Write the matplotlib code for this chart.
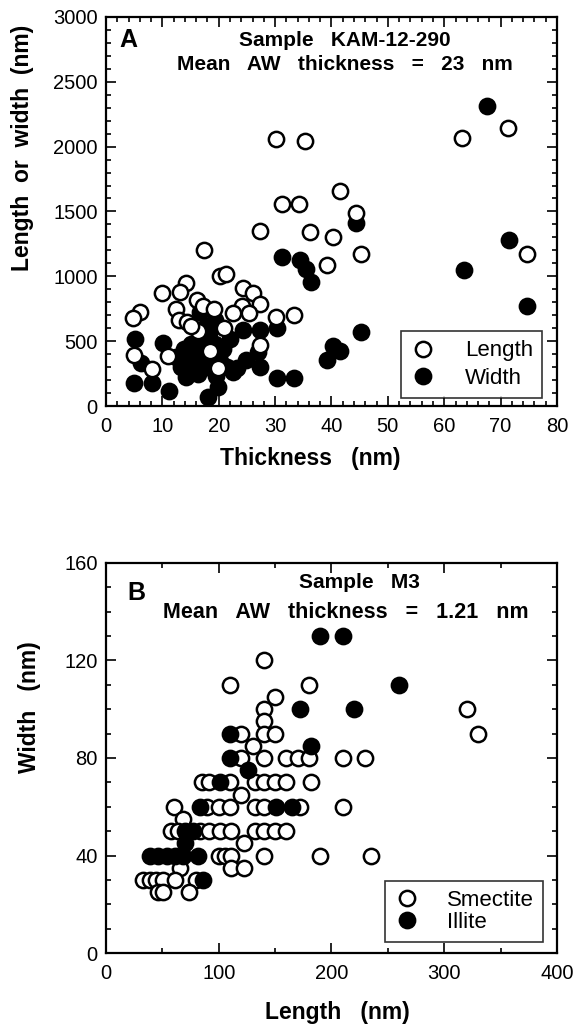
import matplotlib
matplotlib.use("Agg")
from matplotlib import pyplot as plt
from matplotlib.ticker import MultipleLocator

plt.rcParams['font.family'] = ['Liberation Sans', 'DejaVu Sans']

# ---- panel A : sample KAM-12-290 ----
len_thick = [30.2, 35.3, 31.3, 34.2, 27.3, 36.2, 40.3, 41.5, 44.4, 45.3, 39.2, 33.3, 30.2,
             63.2, 71.3, 74.6, 17.4, 20.3, 21.3, 10.0, 14.2, 13.1, 16.2, 12.5, 17.3, 19.2,
             12.9, 14.3, 24.3, 26.1, 27.3, 24.1, 25.3, 22.6, 6.0, 4.8, 5.0, 8.2, 11.0,
             19.9, 18.4, 27.3, 16.3, 15.0, 21.0]
length = [2060, 2040, 1560, 1555, 1350, 1340, 1300, 1655, 1490, 1170, 1085, 705, 690,
          2065, 2145, 1170, 1205, 1005, 1020, 870, 945, 880, 820, 750, 770, 750,
          665, 650, 910, 870, 790, 770, 715, 715, 725, 675, 390, 285, 385,
          290, 425, 470, 575, 620, 600]
wid_thick = [67.5, 71.5, 63.5, 74.6, 44.4, 31.2, 34.4, 35.5, 36.3, 45.3, 39.2, 40.3, 41.6,
             30.4, 33.3, 30.3, 24.3, 27.3, 27.0, 27.3, 23.2, 24.9, 19.9, 18.1, 5.1, 10.1,
             6.2, 5.0, 8.2, 11.2, 12.5, 13.3, 13.8, 14.2, 14.6, 15.0, 15.4, 15.8, 16.3,
             16.7, 17.0, 17.5, 18.0, 18.3, 18.8, 19.3, 19.6, 20.3, 20.8, 21.5, 22.0, 22.5,
             16.7, 19.3, 17.8]
width = [2315, 1277, 1051, 774, 1410, 1148, 1123, 1059, 956, 572, 354, 461, 425,
         213, 213, 600, 584, 584, 418, 302, 290, 354, 149, 72, 520, 487,
         328, 175, 175, 118, 379, 300, 440, 220, 350, 480, 300, 400, 250,
         520, 360, 440, 300, 560, 400, 480, 230, 350, 440, 300, 520, 260,
         725, 660, 620]

# ---- panel B : sample M3 ----
smec_len = [140, 110, 180, 150, 140, 320, 140, 120, 140, 150, 330, 130,
            120, 140, 160, 170, 180, 210, 230,
            85, 91, 110, 132, 140, 150, 160, 182, 120,
            60, 90, 100, 110, 132, 140, 172, 210, 68,
            58, 64, 83, 91, 101, 111, 132, 140, 150, 160,
            122, 100, 106, 111, 140, 190, 235, 111, 122, 66,
            33, 39, 44, 51, 61, 80, 46, 51, 74]
smec_wid = [120, 110, 110, 105, 100, 100, 95, 90, 90, 90, 90, 85,
            80, 80, 80, 80, 80, 80, 80,
            70, 70, 70, 70, 70, 70, 70, 70, 65,
            60, 60, 60, 60, 60, 60, 60, 60, 55,
            50, 50, 50, 50, 50, 50, 50, 50, 50, 50,
            45, 40, 40, 40, 40, 40, 40, 35, 35, 35,
            30, 30, 30, 30, 30, 30, 25, 25, 25]
ill_len = [190, 210, 260, 220, 172, 182, 110, 110, 126, 101, 83, 151, 165,
           70, 77, 70, 39, 46, 54, 61, 68, 82, 86]
ill_wid = [130, 130, 110, 100, 100, 85, 90, 80, 75, 70, 60, 60, 60,
           50, 50, 45, 40, 40, 40, 40, 40, 40, 30]

fig = plt.figure(figsize=(5.79, 10.24), dpi=100)
axA = fig.add_axes([0.183, 0.6035, 0.779, 0.380])
axB = fig.add_axes([0.183, 0.0693, 0.779, 0.381])

ms = 11
mew = 1.8

def style(ax):
    for s in ax.spines.values():
        s.set_linewidth(1.6)
    ax.tick_params(which='both', direction='in', top=True, right=True, width=1.2)
    ax.tick_params(which='major', length=7, labelsize=14.5)
    ax.tick_params(which='minor', length=3.5)
    ax.tick_params(axis='x', which='major', pad=8)
    ax.tick_params(axis='y', which='major', pad=6)

# panel A
axA.plot(wid_thick, width, 'o', ms=ms, mfc='black', mec='black', mew=mew, label='Width', zorder=2)
axA.plot(len_thick, length, 'o', ms=ms, mfc='white', mec='black', mew=mew, label='Length', zorder=3)
axA.set_xlim(0, 80)
axA.set_ylim(0, 3000)
axA.xaxis.set_major_locator(MultipleLocator(10))
axA.xaxis.set_minor_locator(MultipleLocator(2))
axA.yaxis.set_major_locator(MultipleLocator(500))
axA.yaxis.set_minor_locator(MultipleLocator(100))
axA.set_xlabel('Thickness   (nm)', fontsize=16.5, fontweight='bold')
axA.set_ylabel('Length  or  width  (nm)', fontsize=16.5, fontweight='bold')
axA.xaxis.set_label_coords(0.452, -0.105)
axA.yaxis.set_label_coords(-0.16, 0.663)
style(axA)
axA.text(0.03, 0.94, 'A', transform=axA.transAxes, fontsize=18, fontweight='bold', va='center')
axA.text(0.53, 0.94, 'Sample   KAM-12-290', transform=axA.transAxes, fontsize=15,
         fontweight='bold', ha='center', va='center')
axA.text(0.53, 0.877, 'Mean   AW   thickness   =   23   nm', transform=axA.transAxes, fontsize=15,
         fontweight='bold', ha='center', va='center')
h, l = axA.get_legend_handles_labels()
legA = axA.legend(h[::-1], l[::-1], loc='lower right', bbox_to_anchor=(0.967, 0.021),
                  fontsize=16, frameon=True, fancybox=False, edgecolor='black',
                  handletextpad=1.3, borderpad=0.4, labelspacing=0.3, handlelength=1.2,
                  borderaxespad=0.0)
legA.get_frame().set_linewidth(1.2)

# panel B
axB.plot(smec_len, smec_wid, 'o', ms=ms, mfc='white', mec='black', mew=mew, label='Smectite', zorder=2)
axB.plot(ill_len, ill_wid, 'o', ms=ms, mfc='black', mec='black', mew=mew, label='Illite', zorder=3)
axB.set_xlim(0, 400)
axB.set_ylim(0, 160)
axB.xaxis.set_major_locator(MultipleLocator(100))
axB.xaxis.set_minor_locator(MultipleLocator(50))
axB.yaxis.set_major_locator(MultipleLocator(40))
axB.yaxis.set_minor_locator(MultipleLocator(10))
axB.set_xlabel('Length   (nm)', fontsize=16.5, fontweight='bold')
axB.set_ylabel('Width   (nm)', fontsize=16.5, fontweight='bold')
axB.xaxis.set_label_coords(0.512, -0.124)
axB.yaxis.set_label_coords(-0.145, 0.63)
style(axB)
axB.text(0.047, 0.923, 'B', transform=axB.transAxes, fontsize=18, fontweight='bold', va='center')
axB.text(0.563, 0.949, 'Sample   M3', transform=axB.transAxes, fontsize=15,
         fontweight='bold', ha='center', va='center')
axB.text(0.532, 0.874, 'Mean   AW   thickness   =   1.21   nm', transform=axB.transAxes, fontsize=15.5,
         fontweight='bold', ha='center', va='center')
legB = axB.legend(loc='lower right', bbox_to_anchor=(0.969, 0.028),
                  fontsize=16, frameon=True, fancybox=False, edgecolor='black',
                  handletextpad=1.2, borderpad=0.4, labelspacing=0.05, handlelength=1.2,
                  borderaxespad=0.0)
legB.get_frame().set_linewidth(1.2)

fig.savefig('out.png', dpi=100)
